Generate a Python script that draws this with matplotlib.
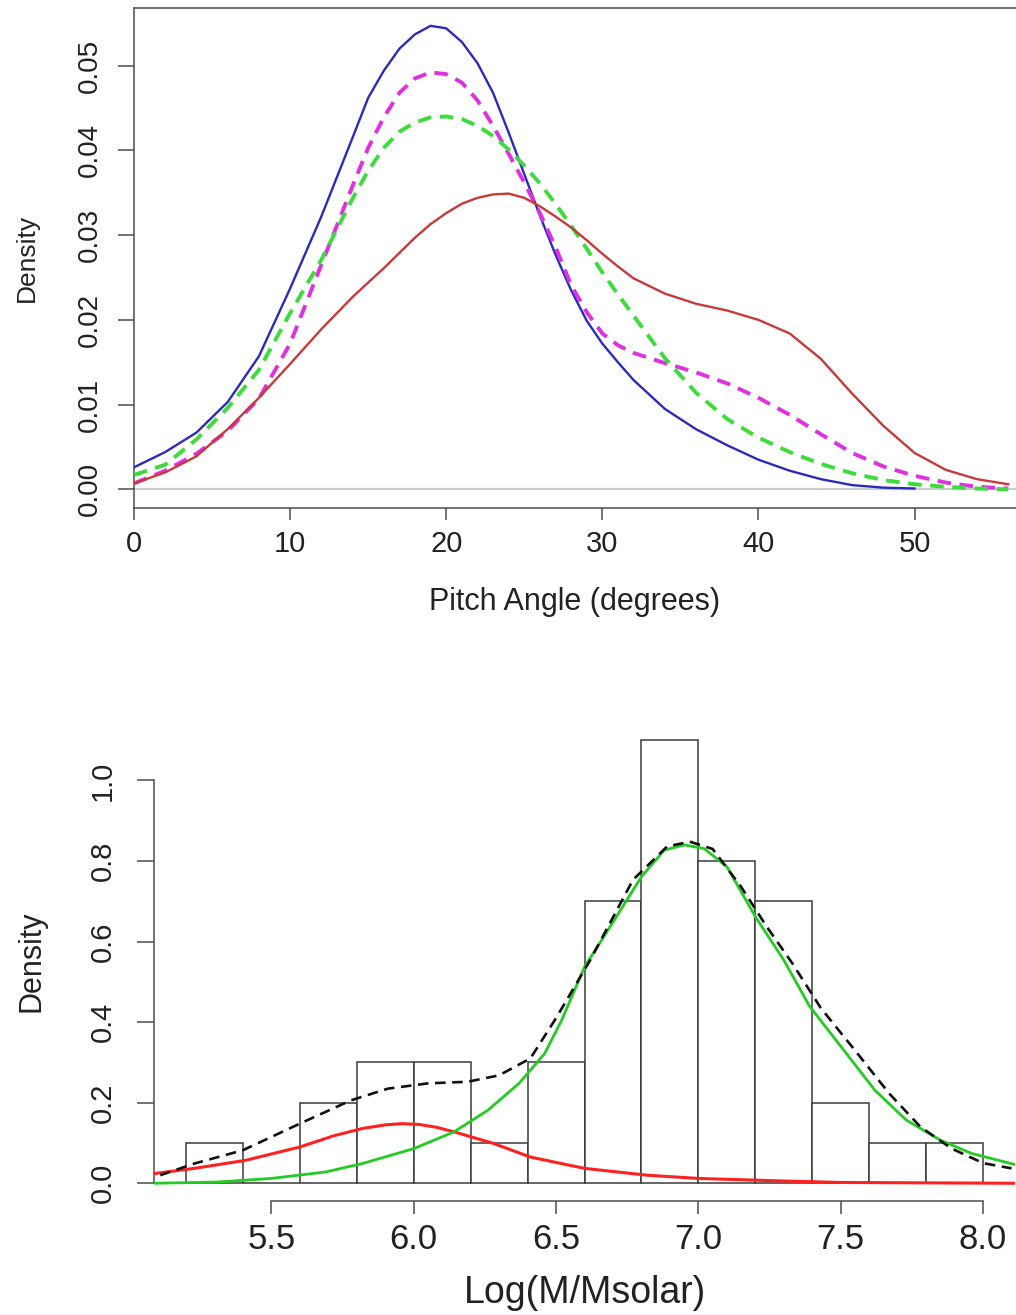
import matplotlib
matplotlib.use("Agg")
import matplotlib.pyplot as plt

plt.rcParams['font.family'] = ['Liberation Sans', 'DejaVu Sans']

# ---- top panel: pitch angle densities ----
pitch = [0, 2, 4, 6, 8, 10, 12, 14, 15, 16, 17, 18, 19, 20, 21, 22, 23, 24,
         25, 26, 27, 28, 29, 30, 31, 32, 34, 36, 38, 40, 42, 44, 46, 48, 50,
         52, 54, 56]
dens_blue = [0.0026, 0.0044, 0.0067, 0.0103, 0.0157, 0.0237, 0.0322, 0.0415,
             0.0462, 0.0494, 0.0520, 0.0537, 0.0547, 0.0544, 0.0528, 0.0503,
             0.0468, 0.0421, 0.0372, 0.0323, 0.0277, 0.0235, 0.0199, 0.0172,
             0.0150, 0.0129, 0.0095, 0.0071, 0.0052, 0.0035, 0.0022, 0.0012,
             0.0005, 0.0002, 0.0001]
dens_magenta = [0.0007, 0.0022, 0.0042, 0.0069, 0.0107, 0.0172, 0.0265, 0.0358,
                0.0403, 0.0439, 0.0468, 0.0485, 0.0492, 0.0490, 0.0480, 0.0459,
                0.0429, 0.0396, 0.0362, 0.0326, 0.0286, 0.0241, 0.0209, 0.0184,
                0.0170, 0.0161, 0.0149, 0.0138, 0.0125, 0.0108, 0.0088, 0.0065,
                0.0043, 0.0027, 0.0016, 0.0008, 0.0003, 0.0001]
dens_green = [0.0017, 0.0029, 0.0059, 0.0096, 0.0141, 0.0208, 0.0271, 0.0343,
              0.0376, 0.0403, 0.0422, 0.0433, 0.0439, 0.0440, 0.0437, 0.0429,
              0.0417, 0.0401, 0.0382, 0.0361, 0.0337, 0.0311, 0.0284, 0.0256,
              0.0230, 0.0205, 0.0155, 0.0114, 0.0083, 0.0061, 0.0044, 0.0030,
              0.0019, 0.0011, 0.0006, 0.0003, 0.0001, 0.0]
dens_red = [0.0007, 0.0020, 0.0039, 0.0071, 0.0108, 0.0148, 0.0189, 0.0227,
            0.0244, 0.0261, 0.0279, 0.0297, 0.0313, 0.0326, 0.0337, 0.0344,
            0.0348, 0.0349, 0.0344, 0.0334, 0.0322, 0.0309, 0.0294, 0.0278,
            0.0263, 0.0249, 0.0231, 0.0219, 0.0211, 0.0200, 0.0184, 0.0154,
            0.0113, 0.0075, 0.0043, 0.0023, 0.0012, 0.0006]

# ---- bottom panel: log mass histogram + fitted components ----
bin_edges = [5.2, 5.4, 5.6, 5.8, 6.0, 6.2, 6.4, 6.6, 6.8, 7.0, 7.2, 7.4, 7.6, 7.8, 8.0]
bin_heights = [0.1, 0.0, 0.2, 0.3, 0.3, 0.1, 0.3, 0.7, 1.1, 0.8, 0.7, 0.2, 0.1, 0.1]

comp1_x = [5.088, 5.23, 5.41, 5.6, 5.72, 5.82, 5.9, 5.96, 6.02, 6.08, 6.15, 6.28,
           6.41, 6.6, 6.82, 7.0, 7.28, 7.5, 8.12]
comp1_y = [0.024, 0.037, 0.057, 0.090, 0.118, 0.136, 0.145, 0.148, 0.146, 0.139,
           0.126, 0.099, 0.065, 0.037, 0.020, 0.012, 0.006, 0.002, 0.0]

comp2_x = [5.088, 5.31, 5.5, 5.69, 5.82, 6.0, 6.14, 6.26, 6.37, 6.46, 6.52, 6.6,
           6.69, 6.8, 6.88, 6.95, 7.02, 7.1, 7.2, 7.3, 7.39, 7.5, 7.62, 7.73,
           7.85, 7.96, 8.12]
comp2_y = [0.0, 0.003, 0.012, 0.028, 0.049, 0.086, 0.127, 0.181, 0.248, 0.322,
           0.405, 0.537, 0.637, 0.761, 0.827, 0.840, 0.831, 0.786, 0.662, 0.554,
           0.440, 0.340, 0.231, 0.157, 0.107, 0.074, 0.045]

total_x = [5.11, 5.23, 5.4, 5.6, 5.78, 5.91, 6.05, 6.19, 6.3, 6.41, 6.5, 6.62,
           6.77, 6.89, 6.97, 7.05, 7.15, 7.24, 7.33, 7.43, 7.55, 7.67, 7.78,
           7.89, 8.0, 8.1]
total_y = [0.020, 0.049, 0.082, 0.148, 0.206, 0.235, 0.248, 0.252, 0.268, 0.310,
           0.410, 0.554, 0.753, 0.836, 0.848, 0.830, 0.736, 0.637, 0.546, 0.435,
           0.330, 0.223, 0.140, 0.086, 0.050, 0.037]

AXIS_COL = "#4d4d4d"
TEXT_COL = "#222222"

fig = plt.figure(figsize=(10.16, 13.15), dpi=100)

# ---------------- top panel ----------------
ax1 = fig.add_axes([0.1319, 0.6137, 0.8681, 0.3802])
ax1.axhline(0, color="#cccccc", lw=1.6, zorder=1)
ax1.plot(pitch[:len(dens_blue)], dens_blue, color="#2a2abf", lw=1.7, zorder=3)
ax1.plot(pitch, dens_magenta, color="#e030e0", lw=2.8, dashes=(3.5, 2.2), zorder=3)
ax1.plot(pitch, dens_green, color="#3ddc3d", lw=2.8, dashes=(3.5, 2.2), zorder=3)
ax1.plot(pitch, dens_red, color="#c83a3a", lw=1.7, zorder=3)

ax1.set_xlim(0, 56.5)
ax1.set_ylim(-0.0022, 0.0568)
ax1.set_xticks([0, 10, 20, 30, 40, 50])
ax1.set_yticks([0.0, 0.01, 0.02, 0.03, 0.04, 0.05])
ax1.set_yticklabels(["0.00", "0.01", "0.02", "0.03", "0.04", "0.05"])
ax1.spines["right"].set_visible(False)
for s in ["left", "top", "bottom"]:
    ax1.spines[s].set_color(AXIS_COL)
    ax1.spines[s].set_linewidth(1.1)
ax1.tick_params(axis="x", length=8.6, width=1.1, color=AXIS_COL,
                labelsize=21, labelcolor=TEXT_COL, pad=7.5)
ax1.tick_params(axis="y", length=11.5, width=1.1, color=AXIS_COL,
                labelsize=20, labelcolor=TEXT_COL, pad=11, labelrotation=90)
for lab in ax1.get_yticklabels():
    lab.set_va("center")
ax1.set_xlabel("Pitch Angle (degrees)", fontsize=22, color=TEXT_COL)
ax1.set_ylabel("Density", fontsize=19, color=TEXT_COL)
ax1.xaxis.set_label_coords(0.5, -0.158)
ax1.yaxis.set_label_coords(-0.108, 0.5)

# ---------------- bottom panel ----------------
ax2 = fig.add_axes([0.1516, 0.0867, 0.8474, 0.3639])
widths = [bin_edges[i + 1] - bin_edges[i] for i in range(len(bin_heights))]
ax2.bar(bin_edges[:-1], bin_heights, width=widths, align="edge",
        facecolor="white", edgecolor="#3a3a3a", linewidth=1.1, zorder=1)
ax2.plot(comp1_x, comp1_y, color="#ff2020", lw=2.2, zorder=3)
ax2.plot(comp2_x, comp2_y, color="#22cc22", lw=2.0, zorder=3)
ax2.plot(total_x, total_y, color="#111111", lw=1.9, dashes=(4, 2.5), zorder=4)

ax2.set_xlim(5.088, 8.112)
ax2.set_ylim(-0.044, 1.144)
ax2.set_xticks([5.5, 6.0, 6.5, 7.0, 7.5, 8.0])
ax2.set_xticklabels(["5.5", "6.0", "6.5", "7.0", "7.5", "8.0"])
ax2.set_yticks([0.0, 0.2, 0.4, 0.6, 0.8, 1.0])
ax2.set_yticklabels(["0.0", "0.2", "0.4", "0.6", "0.8", "1.0"])
ax2.spines["right"].set_visible(False)
ax2.spines["top"].set_visible(False)
ax2.spines["left"].set_bounds(0.0, 1.0)
ax2.spines["bottom"].set_bounds(5.5, 8.0)
for s in ["left", "bottom"]:
    ax2.spines[s].set_color(AXIS_COL)
    ax2.spines[s].set_linewidth(1.1)
ax2.tick_params(axis="x", length=9.5, width=1.1, color=AXIS_COL,
                labelsize=25, labelcolor=TEXT_COL, pad=6)
ax2.tick_params(axis="y", length=12, width=1.1, color=AXIS_COL,
                labelsize=21, labelcolor=TEXT_COL, pad=14.5, labelrotation=90)
for lab in ax2.get_yticklabels():
    lab.set_va("center")
ax2.set_xlabel("Log(M/Msolar)", fontsize=27, color=TEXT_COL)
ax2.set_ylabel("Density", fontsize=22, color=TEXT_COL)
ax2.xaxis.set_label_coords(0.5, -0.155)
ax2.yaxis.set_label_coords(-0.125, 0.5)

fig.savefig("out.png", dpi=100, facecolor="white")
